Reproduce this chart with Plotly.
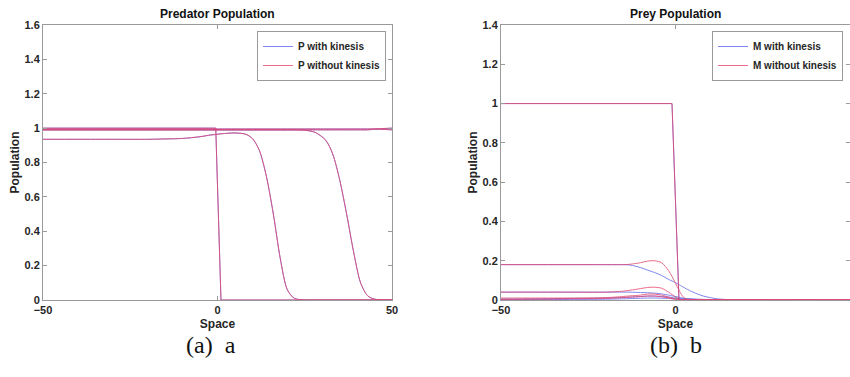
import plotly.graph_objects as go

# ---------------- Predator (left) ----------------
X_P = [-50, -40, -30, -20, -15, -10, -5, -2, -0.5, 1, 3, 5, 8, 10, 12, 14, 16,
       18, 20, 22, 25, 28, 31, 33, 35, 37, 39, 41, 43, 45, 50]

P_with = [
    [1, 1, 1, 1, 1, 1, 1, 1, 1, 0, 0, 0, 0, 0, 0, 0, 0, 0, 0, 0, 0, 0, 0, 0, 0, 0, 0, 0, 0, 0, 0],
    [0.935, 0.935, 0.935, 0.935, 0.937, 0.94, 0.95, 0.96, 0.963, 0.967, 0.97, 0.972, 0.965, 0.94, 0.87,
     0.72, 0.5, 0.24, 0.06, 0.01, 0, 0, 0, 0, 0, 0, 0, 0, 0, 0, 0],
    [0.99, 0.99, 0.99, 0.99, 0.99, 0.99, 0.99, 0.99, 0.99, 0.99, 0.99, 0.99, 0.99, 0.99, 0.99, 0.99, 0.99,
     0.99, 0.99, 0.99, 0.988, 0.975, 0.93, 0.85, 0.7, 0.5, 0.28, 0.1, 0.025, 0.005, 0],
    [0.99, 0.99, 0.99, 0.99, 0.99, 0.99, 0.99, 0.99, 0.99, 0.99, 0.99, 0.99, 0.99, 0.99, 0.99, 0.99, 0.99,
     0.99, 0.99, 0.99, 0.99, 0.99, 0.99, 0.99, 0.99, 0.99, 0.99, 0.99, 0.99, 0.993, 1.0],
    [0.995, 0.995, 0.995, 0.995, 0.995, 0.995, 0.995, 0.995, 0.995, 0.995, 0.995, 0.995, 0.995, 0.995,
     0.995, 0.995, 0.995, 0.995, 0.995, 0.995, 0.995, 0.995, 0.995, 0.995, 0.995, 0.995, 0.995, 0.995,
     0.995, 0.995, 0.99],
]
P_without = [
    [1, 1, 1, 1, 1, 1, 1, 1, 1, 0, 0, 0, 0, 0, 0, 0, 0, 0, 0, 0, 0, 0, 0, 0, 0, 0, 0, 0, 0, 0, 0],
    [0.935, 0.935, 0.935, 0.935, 0.937, 0.94, 0.95, 0.96, 0.963, 0.967, 0.97, 0.972, 0.965, 0.94, 0.87,
     0.72, 0.5, 0.24, 0.06, 0.01, 0, 0, 0, 0, 0, 0, 0, 0, 0, 0, 0],
    [0.99, 0.99, 0.99, 0.99, 0.99, 0.99, 0.99, 0.99, 0.99, 0.99, 0.99, 0.99, 0.99, 0.99, 0.99, 0.99, 0.99,
     0.99, 0.99, 0.99, 0.988, 0.975, 0.93, 0.85, 0.7, 0.5, 0.28, 0.1, 0.025, 0.005, 0],
    [0.99, 0.99, 0.99, 0.99, 0.99, 0.99, 0.99, 0.99, 0.99, 0.99, 0.99, 0.99, 0.99, 0.99, 0.99, 0.99, 0.99,
     0.99, 0.99, 0.99, 0.99, 0.99, 0.99, 0.99, 0.99, 0.99, 0.99, 0.99, 0.99, 0.995, 1.0],
    [0.995, 0.995, 0.995, 0.995, 0.995, 0.995, 0.995, 0.995, 0.995, 0.995, 0.995, 0.995, 0.995, 0.995,
     0.995, 0.995, 0.995, 0.995, 0.995, 0.995, 0.995, 0.995, 0.995, 0.995, 0.995, 0.995, 0.995, 0.995,
     0.995, 0.995, 0.99],
]

# ---------------- Prey (right) ----------------
X_M = [-50, -40, -30, -20, -15, -13, -10, -8, -6, -4, -2, -1, 0, 1, 2, 3, 5, 8,
       10, 12, 15, 18, 20, 25, 30, 40, 50]

M_with = [
    [1, 1, 1, 1, 1, 1, 1, 1, 1, 1, 1, 1, 0.5, 0, 0, 0, 0, 0, 0, 0, 0, 0, 0, 0, 0, 0, 0],
    [0.18, 0.18, 0.18, 0.18, 0.18, 0.178, 0.165, 0.152, 0.14, 0.125, 0.105, 0.097, 0.088, 0.078, 0.068,
     0.058, 0.04, 0.02, 0.012, 0.006, 0.002, 0, 0, 0, 0, 0, 0],
    [0.04, 0.04, 0.04, 0.04, 0.04, 0.04, 0.038, 0.037, 0.035, 0.031, 0.025, 0.021, 0.018, 0.014, 0.01,
     0.007, 0.004, 0.001, 0, 0, 0, 0, 0, 0, 0, 0, 0],
    [0.005, 0.006, 0.008, 0.01, 0.013, 0.015, 0.018, 0.02, 0.02, 0.018, 0.015, 0.012, 0.01, 0.008, 0.007,
     0.006, 0.005, 0.003, 0.002, 0.001, 0, 0, 0, 0, 0, 0, 0],
    [0.002, 0.002, 0.003, 0.004, 0.006, 0.007, 0.009, 0.01, 0.01, 0.009, 0.008, 0.007, 0.006, 0.005,
     0.004, 0.004, 0.003, 0.002, 0.001, 0, 0, 0, 0, 0, 0, 0, 0],
]
M_without = [
    [1, 1, 1, 1, 1, 1, 1, 1, 1, 1, 1, 1, 0.5, 0, 0, 0, 0, 0, 0, 0, 0, 0, 0, 0, 0, 0, 0],
    [0.18, 0.18, 0.18, 0.18, 0.18, 0.182, 0.19, 0.198, 0.2, 0.19, 0.15, 0.12, 0.085, 0.05, 0.02,
     0.005, 0, 0, 0, 0, 0, 0, 0, 0, 0, 0, 0],
    [0.04, 0.04, 0.04, 0.04, 0.045, 0.05, 0.058, 0.064, 0.065, 0.06, 0.04, 0.028, 0.015, 0.005, 0,
     0, 0, 0, 0, 0, 0, 0, 0, 0, 0, 0, 0],
    [0.01, 0.01, 0.01, 0.012, 0.018, 0.021, 0.025, 0.03, 0.03, 0.025, 0.015, 0.01, 0.005, 0, 0,
     0, 0, 0, 0, 0, 0, 0, 0, 0, 0, 0, 0],
    [0.003, 0.004, 0.006, 0.008, 0.012, 0.014, 0.017, 0.02, 0.02, 0.016, 0.01, 0.006, 0.003, 0, 0,
     0, 0, 0, 0, 0, 0, 0, 0, 0, 0, 0, 0],
]

BLUE = "rgb(95,105,235)"
RED = "rgb(232,70,110)"
FONT = "Liberation Sans"
TXT = "#262626"

fig = go.Figure()

def add_set(xs, sets, color, name, xa, ya, legend):
    for i, ys in enumerate(sets):
        if i == 0:
            line = dict(color=color, width=1)
        else:
            line = dict(color=color, width=1, shape="spline", smoothing=0.8)
        fig.add_trace(go.Scatter(
            x=xs, y=ys, mode="lines", name=name, legendgroup=name,
            showlegend=(i == 0), legend=legend, line=line, opacity=0.8,
            xaxis=xa, yaxis=ya, hoverinfo="skip"))

add_set(X_P, P_with, BLUE, "P with kinesis", "x", "y", "legend")
add_set(X_P, P_without, RED, "P without kinesis", "x", "y", "legend")
add_set(X_M, M_with, BLUE, "M with kinesis", "x2", "y2", "legend2")
add_set(X_M, M_without, RED, "M without kinesis", "x2", "y2", "legend2")

H = 377.0
W = 850.0
ydom = [(H - 300) / H, (H - 25) / H]

axis_common = dict(
    showline=True, mirror="ticks", linecolor="#9a9a9a", linewidth=1, automargin=False,
    ticks="inside", ticklen=4, tickcolor="#9a9a9a", showgrid=False, zeroline=False,
    tickfont=dict(family=FONT, size=11, color=TXT, weight="bold"),
)
title_font = dict(family=FONT, size=12, color=TXT, weight="bold")

fig.update_layout(
    width=850, height=377, margin=dict(l=0, r=0, t=0, b=0, autoexpand=False),
    plot_bgcolor="white", paper_bgcolor="white",
    xaxis=dict(domain=[43 / W, 392 / W], range=[-50, 50], tickvals=[-50, 0, 50],
               title=dict(text="Space", standoff=4, font=title_font),
               anchor="y", **axis_common),
    yaxis=dict(domain=ydom, range=[0, 1.6], dtick=0.2, tick0=0,
               title=dict(text="Population", standoff=2, font=title_font),
               anchor="x", **axis_common),
    xaxis2=dict(domain=[501 / W, 1.0], range=[-50, 50], tickvals=[-50, 0, 50],
                title=dict(text="Space", standoff=4, font=title_font),
                anchor="y2", **axis_common),
    yaxis2=dict(domain=ydom, range=[0, 1.4], dtick=0.2, tick0=0,
                title=dict(text="Population", standoff=2, font=title_font),
                anchor="x2", **axis_common),
    legend=dict(x=386 / W, y=(H - 31) / H, xanchor="right", yanchor="top",
                bgcolor="white", bordercolor="#9a9a9a", borderwidth=1,
                font=dict(family=FONT, size=10, color=TXT, weight="bold"),
                tracegroupgap=0, itemwidth=30),
    legend2=dict(x=843 / W, y=(H - 31) / H, xanchor="right", yanchor="top",
                 bgcolor="white", bordercolor="#9a9a9a", borderwidth=1,
                 font=dict(family=FONT, size=10, color=TXT, weight="bold"),
                 tracegroupgap=0, itemwidth=30),
    annotations=[
        dict(text="Predator Population", x=217 / W, y=(H - 14) / H, xref="paper", yref="paper",
             xanchor="center", yanchor="middle",
             showarrow=False, font=dict(family=FONT, size=12, color="#111", weight="bold")),
        dict(text="Prey Population", x=675 / W, y=(H - 14) / H, xref="paper", yref="paper",
             xanchor="center", yanchor="middle",
             showarrow=False, font=dict(family=FONT, size=12, color="#111", weight="bold")),
        dict(text="(a)\u00a0\u00a0a", x=211 / W, y=(H - 345) / H, xref="paper", yref="paper",
             xanchor="center", yanchor="middle",
             showarrow=False, font=dict(family="Liberation Serif", size=24, color="#111")),
        dict(text="(b)\u00a0\u00a0b", x=676 / W, y=(H - 345) / H, xref="paper", yref="paper",
             xanchor="center", yanchor="middle",
             showarrow=False, font=dict(family="Liberation Serif", size=24, color="#111")),
    ],
)

fig.write_html("out.html")
